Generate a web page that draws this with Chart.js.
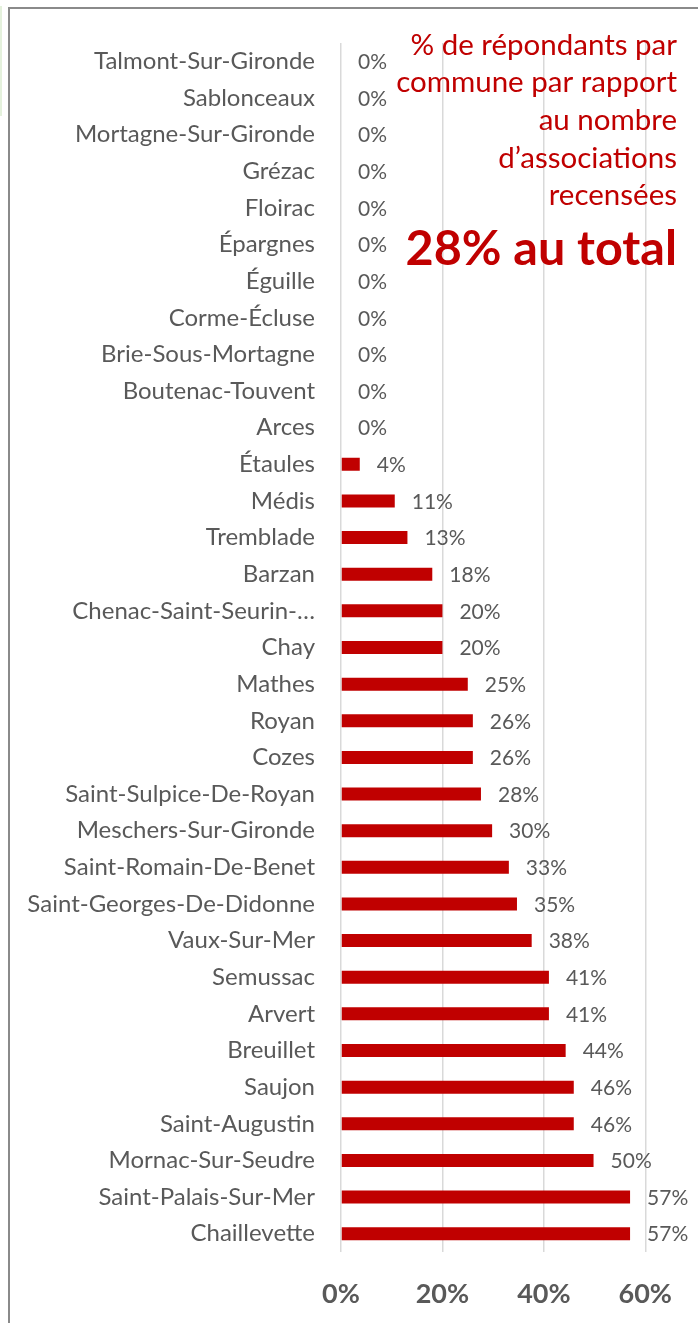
<!DOCTYPE html>
<html>
<head>
<meta charset="utf-8">
<script src="https://cdn.jsdelivr.net/npm/chart.js@4.4.1/dist/chart.umd.min.js"></script>
<style>
  html, body { margin: 0; padding: 0; background: #fff; }
  #wrap { position: relative; width: 698px; height: 1323px; overflow: hidden; background: #fff; }
  #frame { position: absolute; left: 8px; top: 7px; width: 720px; height: 1340px;
           border-left: 2px solid #8a8a8a; border-top: 2px solid #8a8a8a; }
  #strip { position: absolute; left: 0; top: 6px; width: 2px; height: 110px; background: #e4f1dc; }
  #cv { position: absolute; left: 0; top: 0; }
</style>
</head>
<body>
<div id="wrap">
  <div id="strip"></div>
  <div id="frame"></div>
  <canvas id="cv" width="698" height="1323"></canvas>
</div>
<script>
const categories = [
  "Talmont-Sur-Gironde", "Sablonceaux", "Mortagne-Sur-Gironde", "Grézac", "Floirac",
  "Épargnes", "Éguille", "Corme-Écluse", "Brie-Sous-Mortagne", "Boutenac-Touvent",
  "Arces", "Étaules", "Médis", "Tremblade", "Barzan", "Chenac-Saint-Seurin-…",
  "Chay", "Mathes", "Royan", "Cozes", "Saint-Sulpice-De-Royan", "Meschers-Sur-Gironde",
  "Saint-Romain-De-Benet", "Saint-Georges-De-Didonne", "Vaux-Sur-Mer", "Semussac",
  "Arvert", "Breuillet", "Saujon", "Saint-Augustin", "Mornac-Sur-Seudre",
  "Saint-Palais-Sur-Mer", "Chaillevette"
];
const values = [
  0, 0, 0, 0, 0, 0, 0, 0, 0, 0, 0,
  3.7, 10.6, 13.1, 18, 20, 20, 25, 26, 26, 27.6, 29.8,
  33.1, 34.7, 37.6, 41, 41, 44.3, 45.9, 45.9, 49.8, 57, 57
];
const xTicks = [0, 20, 40, 60];
const titleLines = ["% de répondants par", "commune par rapport", "au nombre", "d’associations", "recensées"];
const totalText = "28% au total";

const FONT = "Lato, 'Open Sans', sans-serif";
const RED = "#C00000";
const GREY = "#595959";

const valueLabels = {
  id: "valueLabels",
  afterDatasetsDraw(chart) {
    const ctx = chart.ctx;
    const meta = chart.getDatasetMeta(0);
    ctx.save();
    ctx.font = "21px " + FONT;
    ctx.fillStyle = GREY;
    ctx.textAlign = "left";
    ctx.textBaseline = "middle";
    meta.data.forEach((el, i) => {
      const v = chart.data.datasets[0].data[i];
      ctx.fillText(Math.round(v) + "%", el.x + 17, el.y + 1);
    });
    ctx.restore();
  }
};

const titleBox = {
  id: "titleBox",
  afterDraw(chart) {
    const ctx = chart.ctx;
    ctx.save();
    ctx.fillStyle = RED;
    ctx.textAlign = "right";
    ctx.textBaseline = "middle";
    ctx.font = "29.5px " + FONT;
    const x = 677;
    titleLines.forEach((t, i) => ctx.fillText(t, x, 45 + i * 37.7));
    ctx.font = "bold 48.5px " + FONT;
    ctx.fillText(totalText, x, 249);
    ctx.restore();
  }
};

new Chart(document.getElementById("cv"), {
  type: "bar",
  data: {
    labels: categories,
    datasets: [{
      data: values,
      backgroundColor: RED,
      borderWidth: 0,
      categoryPercentage: 0.5,
      barPercentage: 0.71
    }]
  },
  options: {
    indexAxis: "y",
    responsive: false,
    animation: false,
    devicePixelRatio: 1,
    layout: { padding: { top: 43, right: 51, left: 0, bottom: 0 } },
    plugins: { legend: { display: false }, tooltip: { enabled: false }, title: { display: false } },
    scales: {
      x: {
        min: 0, max: 60,
        afterBuildTicks(scale) { scale.ticks = xTicks.map(v => ({ value: v })); },
        afterFit(scale) { scale.height = 71; },
        ticks: {
          callback: v => v + "%",
          font: { family: FONT, size: 27, weight: "bold" },
          color: GREY,
          padding: 26,
          maxRotation: 0
        },
        grid: { color: "#d9d9d9", lineWidth: 1.5, drawTicks: false },
        border: { display: false }
      },
      y: {
        afterFit(scale) { scale.width = 341; },
        ticks: {
          font: { family: FONT, size: 24 },
          color: GREY,
          padding: 26,
          autoSkip: false
        },
        grid: { display: false, drawTicks: false },
        border: { display: false }
      }
    }
  },
  plugins: [valueLabels, titleBox]
});
</script>
</body>
</html>
